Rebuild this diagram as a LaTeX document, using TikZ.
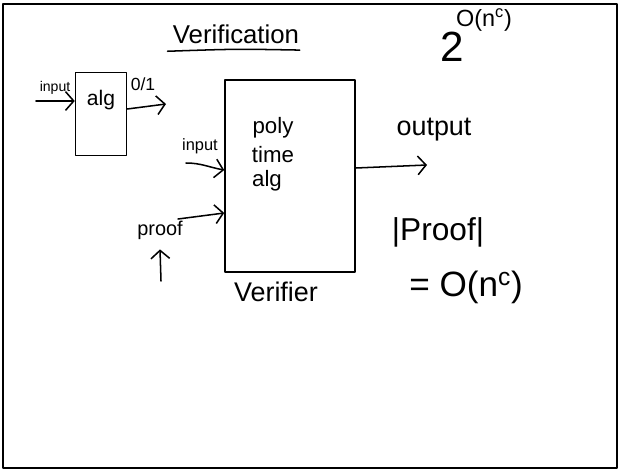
\documentclass[tikz,border=0pt]{standalone}
\usepackage{fontspec}
\setmainfont{Liberation Sans}
\usetikzlibrary{arrows.meta,calc}
\newcommand{\fs}[1]{\fontsize{#1}{#1}\selectfont}
\begin{document}
\begin{tikzpicture}[x=0.03cm,y=-0.03cm, line width=1.3pt, line cap=round, line join=round,
  hand/.style={inner sep=0pt},
  box/.style={draw, line width=1.3pt, inner sep=0pt},
  arr/.style={-{Straight Barb[length=7pt,width=16pt]}, line width=1.3pt}]
\useasboundingbox (0,0) rectangle (621,472);
\draw[line width=1.6pt] (3,4) rectangle (617,468);
% title
\node[hand, font=\fs{22}] (title) at (236,34) {Verification};
\draw ([xshift=-4pt,yshift=-6pt]title.south west) .. controls ([yshift=-4pt]title.south) .. ([yshift=-5pt]title.south east);
\node[hand, font=\fs{36}] (two) at (452,47) {2};
\node[hand, font=\fs{20}] (expo) at (484,20) {O(n\textsuperscript{c})};
% small box
\node[box, minimum width=1.53cm, minimum height=2.49cm] (alg) at (101,114) {};
\node[hand, font=\fs{18}] (algt) at (101,100) {alg};
\node[hand, font=\fs{12}] (in1) at (55,88) {input};
\coordinate (ia) at (36,101);
\draw[arr] (ia) -- (ia -| alg.west);
\node[hand, font=\fs{15}] (zo) at (143,84) {0/1};
\coordinate (oa) at (alg.east |- 0,109);
\coordinate (ob) at (166,104);
\draw[arr] (oa) -- (ob);
% big box
\node[box, minimum width=3.9cm, minimum height=5.76cm] (ver) at (290,176) {};
\node[hand, font=\fs{19}] (poly) at (273,128) {poly};
\node[hand, font=\fs{19}] (time) at (273,155) {time};
\node[hand, font=\fs{19}] (alg2) at (267,181) {alg};
\node[hand, font=\fs{14}] (in2) at (200,146) {input};
\coordinate (ib) at (186,163);
\draw[arr] (ib) to[out=0,in=170] ($(ver.west)+(0,-6)$);
\node[hand, font=\fs{17}] (proof) at (160,230) {proof};
\coordinate (pa) at (178,219);
\draw[arr] (pa) -- ($(ver.west)+(0,37)$);
\coordinate (ua) at (161,281);
\draw[arr] (ua) -- ([yshift=-8pt]proof.south);
\node[hand, font=\fs{23}] (verifier) at (276,292) {Verifier};
% output
\coordinate (ot) at (427,165);
\draw[arr] ($(ver.east)+(0,-8)$) -- (ot);
\node[hand, font=\fs{23}] (output) at (434,130) {output};
% proof size
\node[hand, font=\fs{27}] (psize) at (438,232) {|Proof|};
\node[hand, font=\fs{30}] (onc) at (466,287) {= O(n\textsuperscript{c})};
\end{tikzpicture}
\end{document}
